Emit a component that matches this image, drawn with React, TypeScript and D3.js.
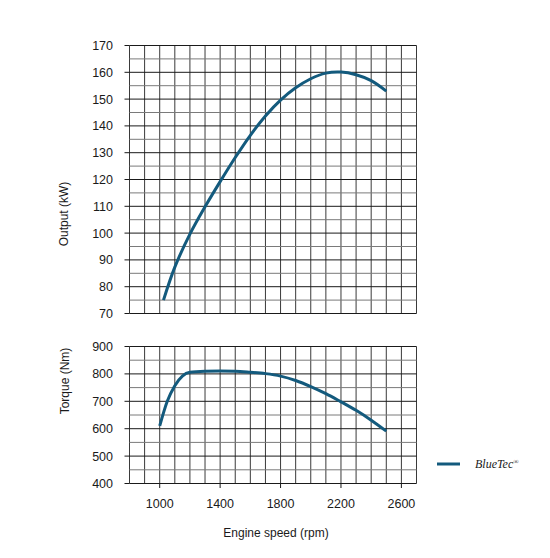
import React from "react";
import * as d3 from "d3";

const powerRpm = [1025, 1100, 1200, 1300, 1400, 1500, 1600, 1700, 1800, 1900, 2000, 2100, 2200, 2300, 2400, 2500];
const powerKw = [75, 87.3, 99.6, 109.8, 119.2, 128.2, 136.5, 143.7, 149.6, 154.2, 157.6, 159.7, 160.1, 159.1, 156.9, 153];

const torqueRpm = [1000, 1050, 1100, 1150, 1200, 1300, 1400, 1500, 1600, 1700, 1800, 1900, 2000, 2100, 2200, 2300, 2400, 2500];
const torqueNm = [610, 700, 757, 792, 806, 810, 811, 810, 806, 801, 792, 776, 754, 728, 698, 667, 631, 591];

const xTicks = [1000, 1400, 1800, 2200, 2600];
const powerTicks = [70, 80, 90, 100, 110, 120, 130, 140, 150, 160, 170];
const torqueTicks = [400, 500, 600, 700, 800, 900];
const seriesName = "BlueTec";

const COLOR = "#135a7d";
const FONT = "'Liberation Sans', Arial, sans-serif";

export default function App() {
  const x = d3.scaleLinear().domain([800, 2700]).range([129.5, 416.5]);
  const yP = d3.scaleLinear().domain([70, 170]).range([313.5, 45.5]);
  const yT = d3.scaleLinear().domain([400, 900]).range([483.5, 346.5]);

  const vLines = d3.range(800, 2701, 100);
  const pLines = d3.range(70, 171, 5);
  const tLines = d3.range(400, 901, 50);

  const pLine = d3
    .line<number>()
    .x((_, i) => x(powerRpm[i]))
    .y((d) => yP(d))
    .curve(d3.curveCatmullRom.alpha(0.5));
  const tLine = d3
    .line<number>()
    .x((_, i) => x(torqueRpm[i]))
    .y((d) => yT(d))
    .curve(d3.curveMonotoneX);

  const grid = (y: d3.ScaleLinear<number, number>, lines: number[], major: number[]) => {
    const [y0, y1] = y.range();
    return (
      <g>
        {vLines.map((v) => (
          <line key={"v" + v} x1={x(v)} x2={x(v)} y1={y0} y2={y1} stroke="#3a3a3a" strokeWidth={1} />
        ))}
        {lines.map((v) => (
          <line
            key={"h" + v}
            x1={x(800)}
            x2={x(2700)}
            y1={y(v)}
            y2={y(v)}
            stroke={major.includes(v) ? "#1a1a1a" : "#7a7a7a"}
            strokeWidth={1}
          />
        ))}
        {major.map((v) => (
          <line key={"t" + v} x1={x(800) - 5} x2={x(800)} y1={y(v)} y2={y(v)} stroke="#1a1a1a" strokeWidth={1} />
        ))}
        {major.map((v) => (
          <text
            key={"l" + v}
            x={113}
            y={y(v)}
            dy="0.36em"
            textAnchor="end"
            fontSize={12.5}
            fontFamily={FONT}
            fill="#1a1a1a"
          >
            {v}
          </text>
        ))}
      </g>
    );
  };

  return (
    <svg
      width={550}
      height={558}
      style={{ position: "absolute", left: 0, top: 0, background: "#fff" }}
    >
      {grid(yP, pLines, powerTicks)}
      {grid(yT, tLines, torqueTicks)}

      {xTicks.map((v) => (
        <g key={"x" + v}>
          <line x1={x(v)} x2={x(v)} y1={483.5} y2={488} stroke="#1a1a1a" strokeWidth={1} />
          <text x={x(v)} y={508} textAnchor="middle" fontSize={12.5} fontFamily={FONT} fill="#1a1a1a">
            {v}
          </text>
        </g>
      ))}

      <path d={pLine(powerKw) || ""} fill="none" stroke={COLOR} strokeWidth={3} strokeLinecap="butt" />
      <path d={tLine(torqueNm) || ""} fill="none" stroke={COLOR} strokeWidth={3} strokeLinecap="butt" />

      <text
        transform="translate(68,214) rotate(-90)"
        textAnchor="middle"
        fontSize={12}
        fontFamily={FONT}
        fill="#1a1a1a"
      >
        Output (kW)
      </text>
      <text
        transform="translate(69,381) rotate(-90)"
        textAnchor="middle"
        fontSize={12}
        fontFamily={FONT}
        fill="#1a1a1a"
      >
        Torque (Nm)
      </text>
      <text x={276} y={537} textAnchor="middle" fontSize={12} fontFamily={FONT} fill="#1a1a1a">
        Engine speed (rpm)
      </text>

      <line x1={437} x2={460} y1={464} y2={464} stroke={COLOR} strokeWidth={3} />
      <text
        x={475}
        y={467.5}
        fontSize={12}
        fontStyle="italic"
        fontFamily="'Liberation Serif', 'DejaVu Serif', serif"
        fill="#1a1a1a"
      >
        {seriesName}
        <tspan fontSize={7} dy={-4}>®</tspan>
      </text>
    </svg>
  );
}
